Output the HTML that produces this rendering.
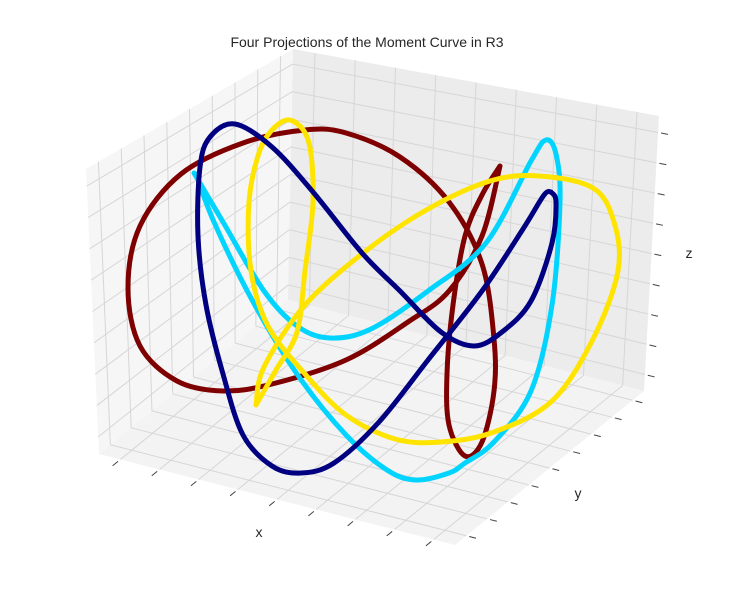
<!DOCTYPE html>
<html><head><meta charset="utf-8">
<style>
html,body{margin:0;padding:0;background:#fff;}
svg{display:block;font-family:"Liberation Sans","DejaVu Sans",sans-serif;}
</style></head>
<body>
<svg id="chart" width="734" height="590" viewBox="0 0 734 590" xmlns="http://www.w3.org/2000/svg">
<text x="367" y="47" text-anchor="middle" font-size="14" fill="#262626">Four Projections of the Moment Curve in R3</text>
<g id="panes"></g>
<g id="grid"></g>
<g id="ticks"></g>
<g id="curves"></g>
<text x="259" y="537" text-anchor="middle" font-size="14" fill="#262626">x</text>
<text x="578" y="498" text-anchor="middle" font-size="14" fill="#262626">y</text>
<text x="689" y="258" text-anchor="middle" font-size="14" fill="#262626">z</text>
</svg>
<script>
// projected curve data (screen-projection units)
const navyU=[551,556,552,531,502,474,441,400,362,313,272,235,210,200,198,206,223,243,272,301,334,379,428,482,523,544,551];
const navyV=[192,202,243,301,332,346,332,291,253,192,147,124,137,167,236,305,374,435,466,473,463,422,360,291,229,195,192];
const cyanU=[194,223,264,297,330,371,428,486,531,546,556,560,552,531,494,465,449,416,387,346,297,251,214,196];
const cyanV=[173,222,291,326,338,329,291,243,161,140,154,202,305,391,442,463,473,480,470,435,374,298,222,174];
const yellowU=[256,276,297,305,313,309,293,276,260,249,251,268,305,346,395,441,494,552,593,618,614,593,539,490,428,367,305,264,256];
const yellowV=[405,370,332,271,202,143,121,126,150,202,271,326,374,415,439,442,432,401,339,271,222,188,176,181,209,250,305,367,405];
const maroonU=[500,482,465,453,447,449,465,482,494,494,482,449,400,346,305,243,181,140,128,140,177,223,272,346,408,449,482,500];
const maroonV=[166,195,236,305,374,425,456,442,391,339,264,202,157,133,130,143,174,226,288,346,381,391,384,360,322,291,236,166];
const tickFractions=[0.06,0.17,0.28,0.39,0.50,0.61,0.72,0.83,0.94];

const NS="http://www.w3.org/2000/svg";
const sx=d=>d*1, sy=d=>d*1;
const L=[99,454],F=[455,545],R=[644,391],B=[288,300],Lt=[86,169],Bt=[293,49],Rt=[659,116];
const lerp=(a,b,t)=>[a[0]+(b[0]-a[0])*t,a[1]+(b[1]-a[1])*t];
function mk(tag,attrs,parent){const e=document.createElementNS(NS,tag);for(const k in attrs)e.setAttribute(k,attrs[k]);parent.appendChild(e);return e;}
const panes=document.getElementById('panes');
function poly(pts,fill,name){const p=mk('polygon',{points:pts.map(q=>q.join(',')).join(' '),fill:fill},panes);

}
poly([L,B,Bt,Lt],'#f6f6f6','left-pane');
poly([B,R,Rt,Bt],'#ececec','back-pane');
poly([L,F,R,B],'#f3f3f3','floor-pane');
const grid=document.getElementById('grid'),ticks=document.getElementById('ticks');
function line(a,b,parent,stroke,name,w){const l=mk('line',{x1:a[0],y1:a[1],x2:b[0],y2:b[1],stroke:stroke,'stroke-width':w||1},parent);

}
function ext(a,b,len,gap){const dx=a[0]-b[0],dy=a[1]-b[1],n=Math.hypot(dx,dy);
return [[a[0]+dx/n*gap,a[1]+dy/n*gap],[a[0]+dx/n*(gap+len),a[1]+dy/n*(gap+len)]];}
tickFractions.forEach(t=>{
  const a=lerp(L,F,t),b=lerp(B,R,t),c=lerp(Bt,Rt,t);
  line(a,b,grid,'#d6d6d6','x-gridline');line(b,c,grid,'#d6d6d6','x-gridline');
  const xt=ext(a,b,7,3);line(xt[0],xt[1],ticks,'#444','x-tick');
  const e=lerp(L,B,t),f=lerp(F,R,t),g=lerp(Lt,Bt,t);
  line(e,f,grid,'#d6d6d6','y-gridline');line(e,g,grid,'#d6d6d6','y-gridline');
  const yt=ext(f,e,7,3);line(yt[0],yt[1],ticks,'#444','y-tick');
  const i=lerp(L,Lt,t),j=lerp(B,Bt,t),k=lerp(R,Rt,t);
  line(i,j,grid,'#d6d6d6','z-gridline');line(j,k,grid,'#d6d6d6','z-gridline');
  const zt=ext(k,j,7,3);line(zt[0],zt[1],ticks,'#444','z-tick');
});
function smooth(us,vs){const p=us.map((u,i)=>[sx(u),sy(vs[i])]);let s='M'+p[0].join(',');
for(let i=0;i<p.length-1;i++){const p0=p[Math.max(0,i-1)],p1=p[i],p2=p[i+1],p3=p[Math.min(p.length-1,i+2)];
const c1=[p1[0]+(p2[0]-p0[0])/6,p1[1]+(p2[1]-p0[1])/6],c2=[p2[0]-(p3[0]-p1[0])/6,p2[1]-(p3[1]-p1[1])/6];
s+=' C'+c1.join(',')+' '+c2.join(',')+' '+p2.join(',');}return s;}
const curves=document.getElementById('curves');
function curve(us,vs,color,name){const p=mk('path',{d:smooth(us,vs),fill:'none',stroke:color,'stroke-width':5,'stroke-linecap':'round','stroke-linejoin':'round'},curves);

}
curve(maroonU,maroonV,'#7f0000','maroon-curve');
curve(cyanU,cyanV,'#00d4ff','cyan-curve');
curve(yellowU,yellowV,'#ffe400','yellow-curve');
curve(navyU,navyV,'#000080','navy-curve');
</script>
</body></html>
